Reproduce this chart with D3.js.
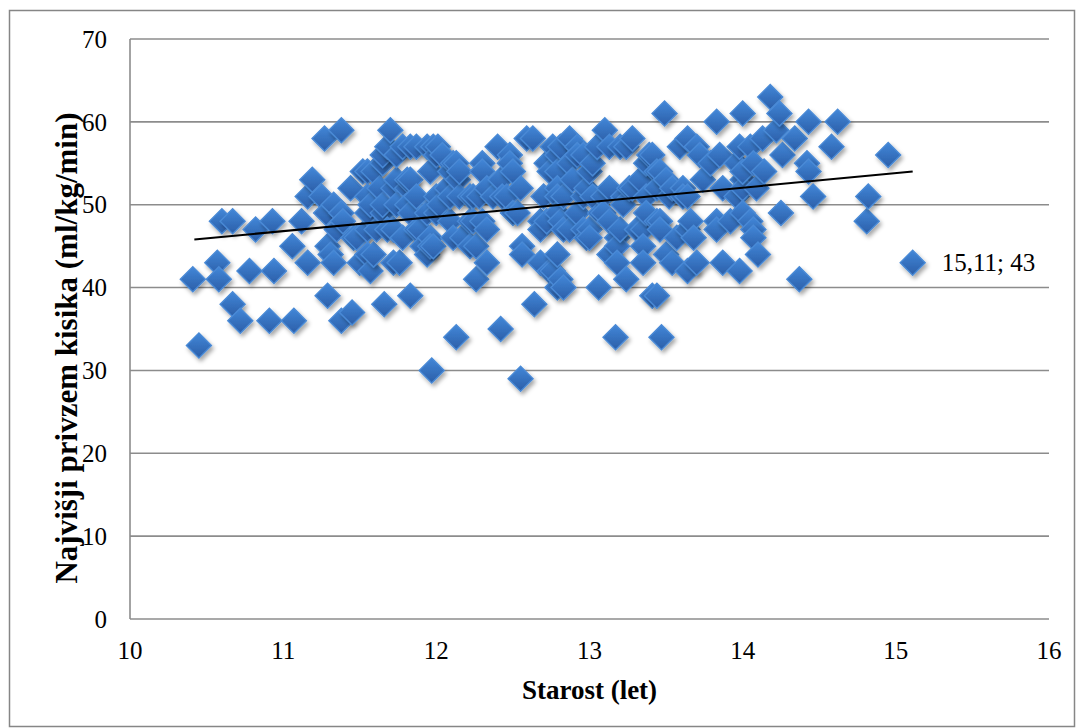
<!DOCTYPE html>
<html><head><meta charset="utf-8">
<script src="https://cdn.jsdelivr.net/npm/d3@7"></script>
<style>
html,body{margin:0;padding:0;background:#fff;}
svg text{font-family:"Liberation Serif","Times New Roman",serif;fill:#000;}
</style></head>
<body>
<svg id="chart" width="1078" height="728"></svg>
<script>
// Age (years) and VO2max (ml/kg/min)
const ages = [
10.41,10.45,10.57,10.58,10.60,10.67,10.67,10.72,10.78,10.82,10.91,10.93,10.94,11.06,11.07,11.12,11.16,11.16,11.19,11.25,
11.27,11.28,11.29,11.29,11.31,11.33,11.33,11.35,11.38,11.38,11.38,11.39,11.44,11.45,11.46,11.48,11.50,
11.52,11.55,11.55,11.55,11.55,11.55,11.57,11.57,11.59,11.59,11.61,11.63,11.65,11.65,11.65,11.65,11.66,11.68,11.68,11.70,
11.72,11.72,11.72,11.74,11.74,11.74,11.76,11.78,11.78,11.81,11.81,11.81,11.83,11.83,11.83,11.83,11.87,11.87,11.87,11.89,
11.91,11.94,11.94,11.94,11.96,11.96,11.96,11.97,11.98,11.98,12.00,12.00,12.00,12.01,12.02,12.04,12.07,12.09,12.09,12.09,
12.11,12.11,12.13,12.13,12.14,12.15,12.15,12.17,12.22,12.22,12.22,12.24,12.24,12.26,12.26,12.28,12.30,12.30,12.30,12.33,
12.33,12.33,12.37,12.40,12.42,12.42,12.43,12.46,12.48,12.48,12.50,12.50,12.53,12.55,12.55,12.56,12.56,12.59,12.63,12.64,
12.68,12.68,12.68,12.70,12.72,12.72,12.74,12.74,12.76,12.76,12.79,12.79,12.79,12.79,12.79,12.79,12.79,12.81,12.81,12.81,
12.83,12.83,12.83,12.87,12.87,12.87,12.89,12.92,12.92,12.92,12.96,12.96,12.96,12.98,12.98,13.00,13.00,13.00,13.02,13.02,
13.05,13.06,13.07,13.09,13.09,13.10,13.13,13.13,13.13,13.13,13.17,13.18,13.18,13.18,13.20,13.20,13.22,13.22,13.24,13.24,
13.26,13.28,13.28,13.31,13.33,13.35,13.35,13.35,13.37,13.37,13.37,13.39,13.41,13.41,13.44,13.44,13.44,13.44,13.46,13.46,
13.46,13.47,13.49,13.50,13.50,13.52,13.54,13.54,13.57,13.59,13.61,13.61,13.64,13.64,13.64,13.64,13.66,13.68,13.70,13.70,
13.72,13.74,13.79,13.83,13.83,13.83,13.85,13.87,13.87,13.92,13.96,13.96,13.98,13.98,14.00,14.00,14.00,14.00,14.00,14.05,
14.05,14.07,14.07,14.07,14.09,14.10,14.13,14.14,14.18,14.22,14.24,14.25,14.26,14.34,14.37,14.42,14.43,14.43,14.46,14.58,
14.62,14.81,14.82,14.95,15.11
];
const vo2max = [
41,33,43,41,48,48,38,36,42,47,36,48,42,45,36,48,43,51,53,51,
58,49,45,39,44,43,50,47,59,49,36,48,52,37,46,46,43,
54,54,51,47,44,49,50,42,54,44,47,52,55,49,50,56,38,57,47,59,
52,43,47,53,50,56,43,57,46,52,53,50,53,49,39,57,57,51,47,47,
45,49,44,57,54,46,45,30,57,45,51,49,56,57,50,56,52,54,48,51,
55,46,55,34,53,51,54,46,51,48,45,51,48,45,41,51,55,54,48,52,
47,43,51,57,53,35,51,51,56,55,54,49,49,52,29,45,44,58,58,38,
48,47,43,51,55,48,54,42,57,42,56,54,52,51,49,44,40,57,48,41,
51,47,40,58,55,47,53,57,56,49,56,51,47,52,46,54,47,46,55,51,
57,40,49,51,49,59,57,52,48,44,34,46,45,43,57,47,51,50,57,41,
52,58,52,47,53,47,45,43,55,51,49,56,56,39,54,52,48,39,54,48,
47,34,61,53,44,51,52,43,46,57,52,51,58,51,47,42,48,46,57,43,
56,53,55,60,48,47,56,52,43,48,55,51,57,42,61,53,52,49,54,57,
48,55,47,46,52,44,58,54,63,59,61,49,56,58,41,55,60,54,51,57,
60,48,51,56,43
];
// Linear trend line end points
const trendAges = [10.42, 15.11];
const trendVo2 = [45.8, 54.0];
const xTicks = [10, 11, 12, 13, 14, 15, 16];
const yTicks = [0, 10, 20, 30, 40, 50, 60, 70];
const labelIndex = ages.length - 1; // point labelled "15,11; 43"
const xTitle = "Starost (let)";
const yTitle = "Najvišji privzem kisika (ml/kg/min)";

const svg = d3.select("#chart");
const M = {left:130, top:39, right:1049, bottom:619};
const x = d3.scaleLinear().domain([10,16]).range([M.left, M.right]);
const y = d3.scaleLinear().domain([0,70]).range([M.bottom, M.top]);

// outer chart border
svg.append("rect").attr("x",9.5).attr("y",10.5).attr("width",1065).attr("height",716)
  .attr("fill","#fff").attr("stroke","#868686").attr("stroke-width",1.5);

const defs = svg.append("defs");
const g = defs.append("linearGradient").attr("id","dg").attr("x1",0).attr("y1",0).attr("x2",0).attr("y2",1);
g.append("stop").attr("offset","0%").attr("stop-color","#4287d8");
g.append("stop").attr("offset","100%").attr("stop-color","#2b5ea8");
const f = defs.append("filter").attr("id","sh").attr("x","-50%").attr("y","-50%").attr("width","200%").attr("height","200%");
f.append("feDropShadow").attr("dx",2).attr("dy",3).attr("stdDeviation",2)
  .attr("flood-color","#000").attr("flood-opacity",0.35);

// gridlines
svg.append("g").selectAll("line").data(yTicks).join("line")
  .attr("x1",M.left).attr("x2",M.right).attr("y1",d=>y(d)).attr("y2",d=>y(d))
  .attr("stroke","#8c8c8c").attr("stroke-width",1.6);
// left plot border
svg.append("line").attr("x1",M.left).attr("x2",M.left).attr("y1",M.top).attr("y2",M.bottom)
  .attr("stroke","#8c8c8c").attr("stroke-width",1.6);

// y tick labels
svg.append("g").selectAll("text").data(yTicks).join("text")
  .attr("x",107).attr("y",d=>y(d)).attr("dy","0.35em").attr("text-anchor","end")
  .attr("font-size",25).text(d=>d);
// x tick labels
svg.append("g").selectAll("text").data(xTicks).join("text")
  .attr("x",d=>x(d)).attr("y",659).attr("text-anchor","middle")
  .attr("font-size",25).text(d=>d);

// points
const pts = ages.map((a,i)=>({a, v:vo2max[i]}));
svg.append("g").selectAll("path").data(pts).join("path")
  .attr("transform",d=>`translate(${x(d.a)},${y(d.v)})`)
  .attr("d","M0,-12.5L12.5,0L0,12.5L-12.5,0Z")
  .attr("fill","url(#dg)").attr("stroke","#4a8ad6").attr("stroke-width",1.4)
  .attr("filter","url(#sh)");

// trend line
svg.append("line")
  .attr("x1",x(trendAges[0])).attr("y1",y(trendVo2[0]))
  .attr("x2",x(trendAges[1])).attr("y2",y(trendVo2[1]))
  .attr("stroke","#000").attr("stroke-width",2);

// data label
const lp = pts[labelIndex];
svg.append("text").attr("x",x(lp.a)+29).attr("y",y(lp.v)).attr("dy","0.35em")
  .attr("font-size",25).text(String(lp.a).replace(".",",")+"; "+lp.v);

// axis titles
svg.append("text").attr("x",(M.left+M.right)/2).attr("y",699).attr("text-anchor","middle")
  .attr("font-size",27).attr("font-weight","bold").text(xTitle);
svg.append("text").attr("transform",`translate(77,348) rotate(-90)`)
  .attr("text-anchor","middle").attr("font-size",31).attr("font-weight","bold").text(yTitle);
</script>
</body></html>
